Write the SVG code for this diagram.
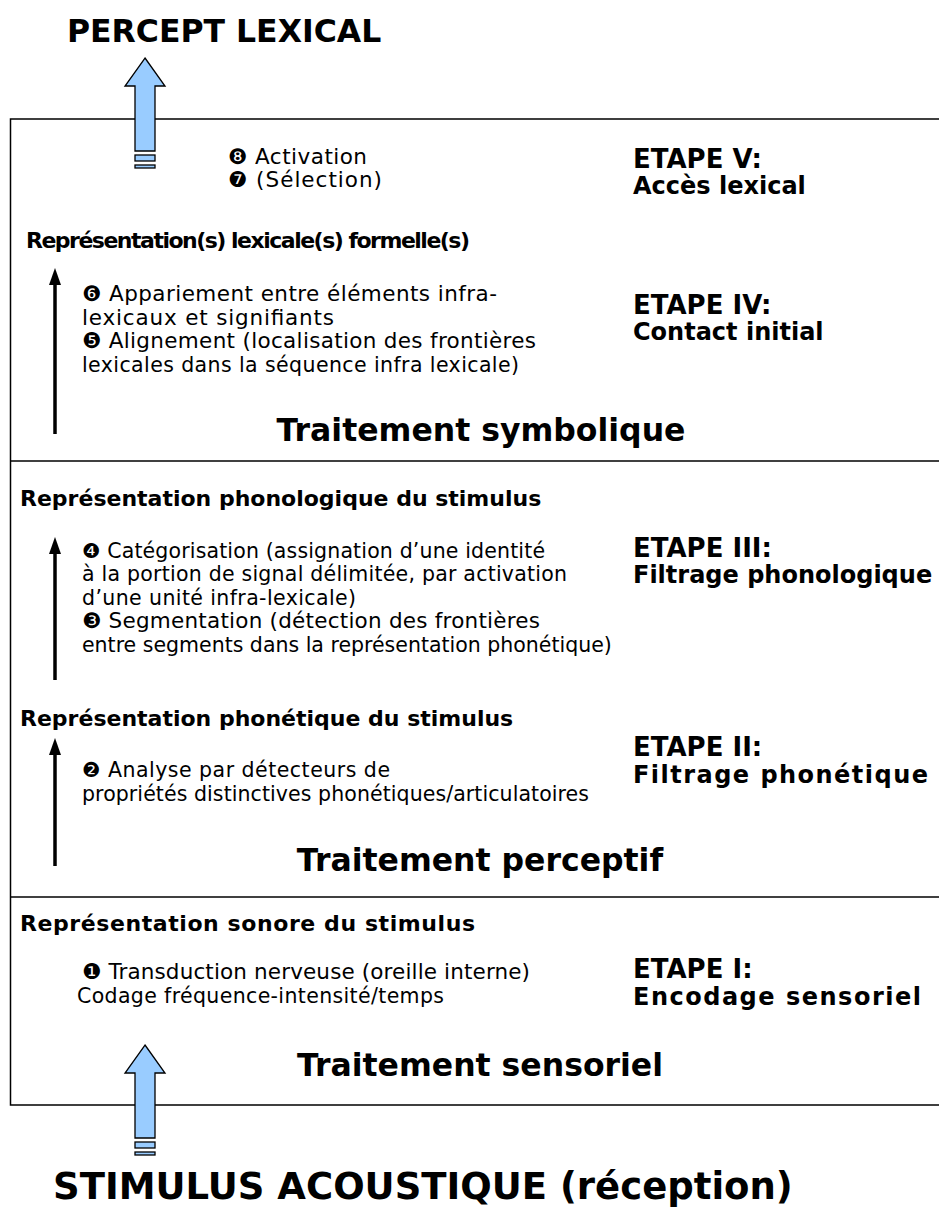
<svg xmlns="http://www.w3.org/2000/svg" width="939" height="1218" viewBox="0 0 939 1218">
<style>
text{font-family:"DejaVu Sans",Verdana,sans-serif;fill:#000}
.t{font-size:31.5px;font-weight:bold}
.t2{font-size:37px;font-weight:bold}
.h{font-size:22px;font-weight:bold}
.b{font-size:20.5px}
.b2{font-size:21.5px}
.e1{font-size:26px;font-weight:bold}
.e2{font-size:24px;font-weight:bold}
.tr{font-size:31.5px;font-weight:bold;text-anchor:middle}
.frame{fill:none;stroke:#000;stroke-width:1.5}
.big{fill:#99ccff;stroke:#000;stroke-width:1.3}
.cn{stroke:#000;stroke-width:3.5;fill:none}
</style>
<g id="frame">
<path class="frame" d="M939,119 H10.5 V1105 H939"/>
<line class="frame" x1="10.5" y1="461" x2="939" y2="461"/>
<line class="frame" x1="10.5" y1="897" x2="939" y2="897"/>
</g>
<g id="percept-lexical">
<text class="t" x="67" y="42">PERCEPT LEXICAL</text>
</g>
<g id="stimulus-acoustique">
<text class="t2" x="53" y="1199">STIMULUS ACOUSTIQUE (réception)</text>
</g>
<g id="connectors">
<path class="big" d="M145,58 L165,86 L155,86 L155,151 L135,151 L135,86 L125,86 Z"/>
<rect class="big" x="135" y="155" width="20" height="6"/>
<rect class="big" x="135" y="165" width="20" height="3"/>
<path class="big" d="M145,1045 L165,1073 L155,1073 L155,1138 L135,1138 L135,1073 L125,1073 Z"/>
<rect class="big" x="135" y="1142" width="20" height="6"/>
<rect class="big" x="135" y="1152" width="20" height="3"/>
<path d="M55,268 L61,285 L49,285 Z" fill="#000"/>
<line class="cn" x1="55" y1="283" x2="55" y2="434"/>
<path d="M55,537 L61,554 L49,554 Z" fill="#000"/>
<line class="cn" x1="55" y1="552" x2="55" y2="680"/>
<path d="M55,738 L61,755 L49,755 Z" fill="#000"/>
<line class="cn" x1="55" y1="753" x2="55" y2="866"/>
</g>
<g id="etape5">
<text class="b2" x="228" y="164" textLength="139">❽ Activation</text>
<text class="b2" x="228" y="187" textLength="154">❼ (Sélection)</text>
<text class="e1" x="633" y="168">ETAPE V:</text>
<text class="e2" x="633" y="194">Accès lexical</text>
</g>
<g id="rep-lexicale">
<text class="h" x="26" y="248" textLength="444">Représentation(s) lexicale(s) formelle(s)</text>
</g>
<g id="etape4">
<text class="b2" x="82" y="301" textLength="415">❻ Appariement entre éléments infra-</text>
<text class="b2" x="82" y="325" textLength="252">lexicaux et signifiants</text>
<text class="b2" x="82" y="348" textLength="454">❺ Alignement (localisation des frontières</text>
<text class="b" x="82" y="372" textLength="437">lexicales dans la séquence infra lexicale)</text>
<text class="e1" x="633" y="314">ETAPE IV:</text>
<text class="e2" x="633" y="340">Contact initial</text>
<text class="tr" x="481" y="441">Traitement symbolique</text>
</g>
<g id="rep-phonologique">
<text class="h" x="20" y="506">Représentation phonologique du stimulus</text>
</g>
<g id="etape3">
<text class="b" x="82" y="558" textLength="463">❹ Catégorisation (assignation d’une identité</text>
<text class="b" x="82" y="581" textLength="485">à la portion de signal délimitée, par activation</text>
<text class="b" x="82" y="605" textLength="274">d’une unité infra-lexicale)</text>
<text class="b2" x="82" y="628" textLength="458">❸ Segmentation (détection des frontières</text>
<text class="b" x="82" y="652">entre segments dans la représentation phonétique)</text>
<text class="e1" x="633" y="557">ETAPE III:</text>
<text class="e2" x="633" y="583">Filtrage phonologique</text>
</g>
<g id="rep-phonetique">
<text class="h" x="20" y="726">Représentation phonétique du stimulus</text>
</g>
<g id="etape2">
<text class="b" x="82" y="777" textLength="308">❷ Analyse par détecteurs de</text>
<text class="b" x="82" y="801" textLength="507">propriétés distinctives phonétiques/articulatoires</text>
<text class="e1" x="633" y="756">ETAPE II:</text>
<text class="e2" x="633" y="783" textLength="295">Filtrage phonétique</text>
<text class="tr" x="480" y="871">Traitement perceptif</text>
</g>
<g id="rep-sonore">
<text class="h" x="20" y="931" textLength="455">Représentation sonore du stimulus</text>
</g>
<g id="etape1">
<text class="b2" x="82" y="979" textLength="448">❶ Transduction nerveuse (oreille interne)</text>
<text class="b" x="77" y="1003" textLength="367">Codage fréquence-intensité/temps</text>
<text class="e1" x="633" y="978">ETAPE I:</text>
<text class="e2" x="633" y="1005" textLength="288">Encodage sensoriel</text>
<text class="tr" x="480" y="1076">Traitement sensoriel</text>
</g>
</svg>
